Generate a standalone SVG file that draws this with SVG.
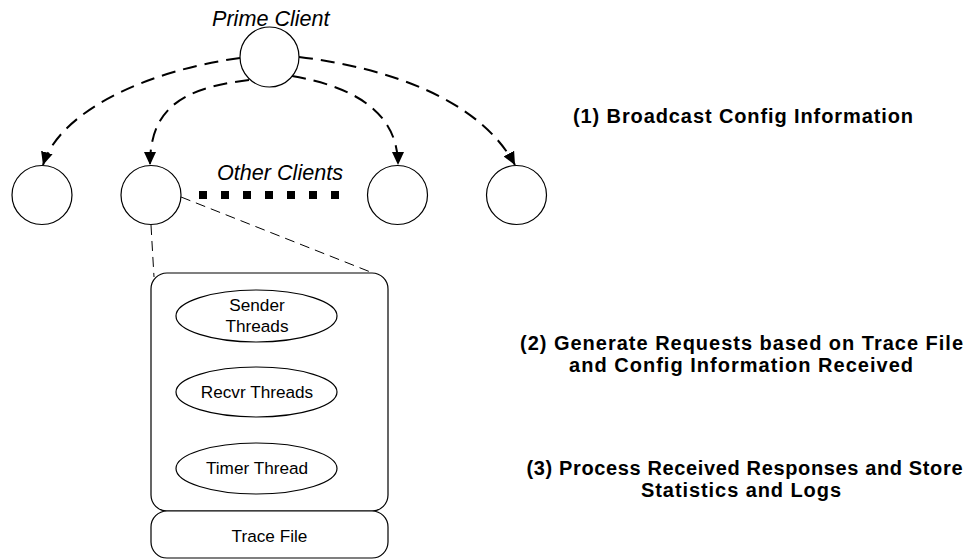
<svg xmlns="http://www.w3.org/2000/svg" width="971" height="560" viewBox="0 0 971 560">
<style>
.n{fill:#fff;stroke:#000;stroke-width:1.2}
.e{fill:none;stroke:#000;stroke-width:2;stroke-dasharray:14 8}
.z{fill:none;stroke:#000;stroke-width:1;stroke-dasharray:10 6}
.it{font-family:"Liberation Sans",Arial,sans-serif;font-style:italic;font-size:21.6px;fill:#000}
.b{font-family:"Liberation Sans",Arial,sans-serif;font-weight:bold;font-size:20px;fill:#000;text-anchor:middle}
.s{font-family:"Liberation Sans",Arial,sans-serif;font-size:17.2px;fill:#000;text-anchor:middle}
</style>
<defs>
<marker id="ah" markerUnits="userSpaceOnUse" markerWidth="14" markerHeight="12" refX="13" refY="6" orient="auto">
<path d="M0,0 L13,6 L0,12 Z" fill="#000"/>
</marker>
</defs>
<rect width="971" height="560" fill="#fff"/>
<g id="connectors">
<path class="e" d="M240,58 C150,70 60,110 43,165" marker-end="url(#ah)"/>
<path class="e" d="M249,80 C180,88 150,110 150,165" marker-end="url(#ah)"/>
<path class="e" d="M292,76 C350,86 398,110 398,165" marker-end="url(#ah)"/>
<path class="e" d="M299,57 C390,68 480,100 515,165" marker-end="url(#ah)"/>
<line x1="199" y1="195" x2="339" y2="195" stroke="#000" stroke-width="8" stroke-dasharray="8 14"/>
<line class="z" x1="151" y1="225" x2="154" y2="277"/>
<line class="z" x1="181" y1="197" x2="373" y2="273"/>
</g>
<g id="prime-client">
<ellipse class="n" cx="269.5" cy="57" rx="29.5" ry="30"/>
<text class="it" x="212" y="26">Prime Client</text>
</g>
<g id="client-1"><ellipse class="n" cx="42" cy="195" rx="30" ry="29.5"/></g>
<g id="client-2"><ellipse class="n" cx="151" cy="195" rx="30" ry="29.5"/></g>
<g id="client-3"><ellipse class="n" cx="397.5" cy="195" rx="30" ry="29.5"/></g>
<g id="client-4"><ellipse class="n" cx="516.5" cy="195" rx="30" ry="29.5"/></g>
<g id="other-clients"><text class="it" x="217" y="180">Other Clients</text></g>
<g id="client-detail">
<rect class="n" x="151" y="273" width="237" height="238" rx="16" ry="16"/>
</g>
<g id="sender-threads">
<ellipse class="n" cx="256.5" cy="316" rx="80.5" ry="26"/>
<text class="s" x="257" y="311">Sender</text>
<text class="s" x="257" y="332">Threads</text>
</g>
<g id="recvr-threads">
<ellipse class="n" cx="256.5" cy="392" rx="80.5" ry="25"/>
<text class="s" x="257" y="398">Recvr Threads</text>
</g>
<g id="timer-thread">
<ellipse class="n" cx="256.5" cy="468.5" rx="80.5" ry="25.5"/>
<text class="s" x="257" y="474">Timer Thread</text>
</g>
<g id="trace-file">
<rect class="n" x="151" y="511" width="237" height="47" rx="16" ry="16"/>
<text class="s" x="269.5" y="542">Trace File</text>
</g>
<g id="step-1"><text class="b" x="743" y="123" textLength="340" lengthAdjust="spacing">(1) Broadcast Config Information</text></g>
<g id="step-2">
<text class="b" x="741.5" y="350" textLength="443" lengthAdjust="spacing">(2) Generate Requests based on Trace File</text>
<text class="b" x="741" y="372" textLength="344" lengthAdjust="spacing">and Config Information Received</text>
</g>
<g id="step-3">
<text class="b" x="744.5" y="475" textLength="436" lengthAdjust="spacing">(3) Process Received Responses and Store</text>
<text class="b" x="741" y="497" textLength="200" lengthAdjust="spacing">Statistics and Logs</text>
</g>
</svg>
